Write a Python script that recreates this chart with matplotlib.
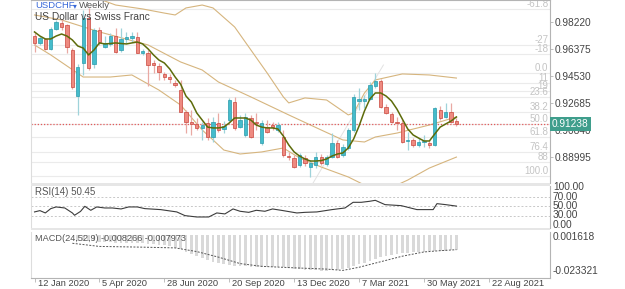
import matplotlib
matplotlib.use('Agg')
import matplotlib.pyplot as plt
import numpy as np
from matplotlib.patches import Rectangle
import matplotlib.transforms as mtransforms

plt.rcParams['font.family'] = ['Liberation Sans', 'DejaVu Sans']

# ---------------- data ----------------
opens = [0.9726, 0.9681, 0.9704, 0.9635, 0.9774, 0.9813, 0.9802, 0.9631, 0.9318, 0.9540,
         0.9847, 0.9533, 0.9767, 0.9653, 0.9672, 0.9726, 0.9631, 0.9704, 0.9711, 0.9717,
         0.9608, 0.9612, 0.9544, 0.9521, 0.9467, 0.9444, 0.9403, 0.9357, 0.9209, 0.9141,
         0.9125, 0.9096, 0.9130, 0.9036, 0.9130, 0.9093, 0.9152, 0.9277, 0.9107, 0.9050,
         0.9164, 0.9141, 0.8993, 0.9107, 0.9118, 0.9084, 0.9038, 0.8906, 0.8891, 0.8845,
         0.8891, 0.8833, 0.8845, 0.8902, 0.8850, 0.8902, 0.8993, 0.8913, 0.8959, 0.9084,
         0.9284, 0.9284, 0.9294, 0.9385, 0.9421, 0.9243, 0.9193, 0.9139, 0.9130, 0.9009,
         0.9016, 0.8982, 0.9002, 0.8997, 0.8982, 0.9221, 0.9175, 0.9209, 0.9145]
highs = [0.9747, 0.9726, 0.9713, 0.9788, 0.9836, 0.9843, 0.9808, 0.9644, 0.9537, 0.9904,
         0.9918, 0.9781, 0.9788, 0.9727, 0.9747, 0.9781, 0.9781, 0.9754, 0.9754, 0.9754,
         0.9638, 0.9631, 0.9562, 0.9542, 0.9480, 0.9467, 0.9426, 0.9426, 0.9221, 0.9221,
         0.9166, 0.9139, 0.9166, 0.9175, 0.9200, 0.9145, 0.9303, 0.9310, 0.9187, 0.9200,
         0.9187, 0.9200, 0.9152, 0.9152, 0.9139, 0.9139, 0.9084, 0.8934, 0.8913, 0.8927,
         0.8913, 0.8879, 0.8934, 0.8920, 0.8913, 0.9064, 0.9016, 0.8988, 0.9098, 0.9330,
         0.9371, 0.9323, 0.9412, 0.9474, 0.9433, 0.9262, 0.9207, 0.9173, 0.9152, 0.9070,
         0.9029, 0.9029, 0.9050, 0.9016, 0.9241, 0.9248, 0.9269, 0.9269, 0.9166]
lows = [0.9617, 0.9665, 0.9631, 0.9631, 0.9767, 0.9767, 0.9610, 0.9364, 0.9186, 0.9460,
        0.9494, 0.9508, 0.9665, 0.9644, 0.9658, 0.9610, 0.9617, 0.9679, 0.9685, 0.9610,
        0.9597, 0.9385, 0.9474, 0.9426, 0.9426, 0.9405, 0.9378, 0.9207, 0.9064, 0.9050,
        0.9084, 0.9016, 0.9016, 0.9004, 0.9070, 0.9064, 0.9139, 0.9084, 0.9098, 0.9036,
        0.9029, 0.9084, 0.8982, 0.9064, 0.9084, 0.9070, 0.8900, 0.8879, 0.8824, 0.8831,
        0.8838, 0.8765, 0.8824, 0.8845, 0.8838, 0.8893, 0.8893, 0.8900, 0.8947, 0.9070,
        0.9221, 0.9234, 0.9289, 0.9371, 0.9234, 0.9193, 0.9132, 0.9084, 0.8995, 0.8947,
        0.8968, 0.8968, 0.8968, 0.8961, 0.8975, 0.9152, 0.9166, 0.9132, 0.9111]
closes = [0.9681, 0.9715, 0.9635, 0.9774, 0.9820, 0.9786, 0.9653, 0.9378, 0.9517, 0.9847,
          0.9506, 0.9767, 0.9687, 0.9679, 0.9726, 0.9619, 0.9704, 0.9722, 0.9726, 0.9612,
          0.9626, 0.9528, 0.9528, 0.9482, 0.9444, 0.9430, 0.9392, 0.9209, 0.9141, 0.9125,
          0.9096, 0.9118, 0.9038, 0.9141, 0.9084, 0.9111, 0.9289, 0.9096, 0.9152, 0.9171,
          0.9038, 0.9130, 0.9130, 0.9072, 0.9105, 0.9118, 0.8913, 0.8897, 0.8833, 0.8913,
          0.8856, 0.8856, 0.8902, 0.8856, 0.8902, 0.8993, 0.8902, 0.8966, 0.9084, 0.9312,
          0.9294, 0.9294, 0.9392, 0.9421, 0.9243, 0.9202, 0.9141, 0.9132, 0.9004, 0.9016,
          0.8982, 0.9004, 0.9005, 0.8982, 0.9232, 0.9164, 0.9209, 0.9141, 0.91238]

# short moving average (olive), one value per candle
sma_fast = [0.9754, 0.9726, 0.9706, 0.9706, 0.9726, 0.9740, 0.9726, 0.9699, 0.9658, 0.9644,
            0.9597, 0.9631, 0.9679, 0.9672, 0.9675, 0.9679, 0.9675, 0.9672, 0.9679, 0.9685,
            0.9672, 0.9638, 0.9597, 0.9562, 0.9542, 0.9501, 0.9446, 0.9398, 0.9316, 0.9275,
            0.9200, 0.9152, 0.9104, 0.9098, 0.9098, 0.9104, 0.9132, 0.9166, 0.9166, 0.9166,
            0.9152, 0.9118, 0.9104, 0.9098, 0.9098, 0.9091, 0.9043, 0.8982, 0.8934, 0.8906,
            0.8886, 0.8872, 0.8872, 0.8875, 0.8886, 0.8906, 0.8920, 0.8927, 0.8961, 0.9023,
            0.9111, 0.9214, 0.9296, 0.9337, 0.9337, 0.9316, 0.9282, 0.9227, 0.9159, 0.9091,
            0.9050, 0.9029, 0.9009, 0.9009, 0.9057, 0.9104, 0.9125, 0.9145, 0.9173]

bb_up_idx = [0, 6, 10, 13, 15, 20, 24, 26, 28, 31, 33, 37, 40, 43, 46, 47, 50, 54, 58, 59, 61, 63, 68, 73, 78]
bb_up_val = [1.0100, 1.0080, 1.0000, 0.9965, 0.9938, 0.9911, 0.9883, 0.9870, 0.9918, 0.9938,
             0.9918, 0.9788, 0.9631, 0.9474, 0.9310, 0.9269, 0.9303, 0.9289, 0.9187, 0.9200,
             0.9337, 0.9426, 0.9467, 0.9460, 0.9439]
bb_mid_idx = [0, 5, 12, 21, 27, 31, 34, 40, 47, 53, 57, 61, 63, 67, 73, 78]
bb_mid_val = [0.9870, 0.9836, 0.9754, 0.9665, 0.9549, 0.9494, 0.9412, 0.9310, 0.9187, 0.9084,
              0.9016, 0.9002, 0.9036, 0.9063, 0.9118, 0.9173]
bb_lo_idx = [0, 3, 9, 14, 18, 23, 27, 31, 33, 35, 38, 42, 46, 49, 53, 58, 61, 65, 69, 73, 78]
bb_lo_val = [0.9665, 0.9597, 0.9446, 0.9446, 0.9460, 0.9357, 0.9255, 0.9084, 0.9016, 0.8947,
             0.8920, 0.8934, 0.8961, 0.8893, 0.8831, 0.8763, 0.8708, 0.8674, 0.8742, 0.8824, 0.8899]

trend_idx = [51.5, 64.5]
trend_val = [0.8722, 0.9528]

last_price = 0.91238

price_ticks = [0.98220, 0.96375, 0.94530, 0.92685, 0.90840, 0.88995]
fib_levels = [-61.8, -27.2, -18.0, 0.0, 9.7, 17.5, 23.6, 38.2, 50.0, 61.8, 76.4, 86.4, 100.0]
fib_labels = ["-61.8", "-27", "-18", "0.0", "11", "19", "23.6", "38.2", "50.0", "61.8", "76.4", "88", "100.0"]
fib_0 = 0.94735
fib_100 = 0.87696

rsi_idx = [0, 1, 2, 3, 4, 5.6, 7, 7.4, 8.5, 9.3, 10.4, 11.5, 13, 14.4, 16, 17.4, 19, 20.4, 23.3,
           26.3, 27.8, 30, 32.2, 33.7, 35.2, 36.7, 38, 39.6, 41, 42.6, 44, 45.6, 48.5, 50, 52.2,
           53, 55, 57.4, 58.9, 60.4, 61.9, 63, 64.8, 67.8, 70.7, 73.7, 74.4, 76, 78]
rsi_val = [37.9, 40.7, 35.7, 45.0, 48.6, 46.4, 35.7, 30.7, 39.0, 50.0, 41.4, 48.6, 46.4, 46.4,
           44.3, 48.6, 48.6, 45.0, 42.9, 37.9, 30.0, 27.0, 27.0, 35.7, 33.6, 44.3, 39.3, 37.0,
           41.4, 39.3, 44.3, 41.4, 35.7, 37.0, 37.9, 39.3, 42.9, 46.4, 58.6, 58.6, 60.7, 62.9,
           53.6, 51.4, 42.9, 42.9, 55.7, 53.6, 50.45]
rsi_levels = [70, 50, 30]
rsi_labels = ["100.00", "70.00", "50.00", "30.00", "0.00"]

macd_start = 8
macd_vals = [-0.0030, -0.0030, -0.0032, -0.0034, -0.0036, -0.0038, -0.0040, -0.0041, -0.0042,
             -0.0043, -0.0044, -0.0045, -0.0046, -0.0048, -0.0050, -0.0053, -0.0057, -0.0062,
             -0.0068, -0.0078, -0.0090, -0.0102, -0.0114, -0.0125, -0.0136, -0.0146, -0.0154,
             -0.0160, -0.0164, -0.0167, -0.0169, -0.0170, -0.0171, -0.0172, -0.0172, -0.0172,
             -0.0172, -0.0173, -0.0176, -0.0180, -0.0184, -0.0187, -0.0189, -0.0191, -0.0192,
             -0.0193, -0.0193, -0.0192, -0.0190, -0.0186, -0.0180, -0.0170, -0.0160, -0.0150,
             -0.0139, -0.0128, -0.0120, -0.0113, -0.0107, -0.0102, -0.0099, -0.0096, -0.0094,
             -0.0092, -0.0090, -0.0089, -0.0087, -0.0086, -0.0085, -0.0084, -0.008266]
sig_idx = [7, 12, 20, 26, 30, 34, 38, 42, 48, 54, 57, 60, 64, 68, 72, 75, 78]
sig_val = [-0.0045, -0.0062, -0.0066, -0.0070, -0.0090, -0.0120, -0.0155, -0.0170, -0.0178,
           -0.0185, -0.0192, -0.0175, -0.0145, -0.0115, -0.0092, -0.0085, -0.007973]
macd_top = 0.001618
macd_bot = -0.023321

date_labels = ["12 Jan 2020", "5 Apr 2020", "28 Jun 2020", "20 Sep 2020",
               "13 Dec 2020", "7 Mar 2021", "30 May 2021", "22 Aug 2021"]
weeks_per_label = 12

# ---------------- style ----------------
W, H = 625, 289
TEAL = '#45bccb'
TEAL_E = '#2a9aab'
RED = '#ee8a80'
RED_E = '#c9463d'
OLIVE = '#5d6b0a'
BB = '#d6b57e'
GRID = '#ebebeb'
AXC = '#b4b4b4'

fig = plt.figure(figsize=(W / 100, H / 100), dpi=100)


def ax_px(l, t, r, b):
    return fig.add_axes([l / W, 1 - b / H, (r - l) / W, (b - t) / H])


XMIN, XMAX = -0.65, 95.3
n = len(closes)
xs = np.arange(n)

# ---------------- main panel ----------------
ax = ax_px(31, 0, 550, 183)
ax.set_xlim(XMIN, XMAX)
ax.set_ylim(0.87218, 0.99723)
for s in ax.spines.values():
    s.set_color(AXC)
    s.set_linewidth(0.8)
ax.spines['left'].set_color('#dddddd')
ax.spines['bottom'].set_visible(False)
ax.set_xticks([])

blend = mtransforms.blended_transform_factory(ax.transAxes, ax.transData)
# fib lines & labels
for lv, lb in zip(fib_levels, fib_labels):
    p = fib_0 - lv / 100.0 * (fib_0 - fib_100)
    ax.axhline(p, color=GRID, lw=0.8, zorder=0)
    ax.text(0.997, p, lb, transform=blend,
            ha='right', va='bottom', fontsize=7, color='#c4c4c4', zorder=1)

ax.yaxis.tick_right()
ax.set_yticks(price_ticks)
ax.set_yticklabels([f"{t:.5f}" for t in price_ticks], fontsize=7.3, color='#444444')
ax.tick_params(axis='y', length=2, width=0.6, color=AXC, pad=1.5)

# bollinger bands
ax.plot(bb_up_idx, bb_up_val, color=BB, lw=0.8, zorder=2)
ax.plot(bb_mid_idx, bb_mid_val, color=BB, lw=0.8, zorder=2)
ax.plot(bb_lo_idx, bb_lo_val, color=BB, lw=0.8, zorder=2)
# trend line
ax.plot(trend_idx, trend_val, color='#e2e2e2', lw=0.7, zorder=1)

# candles
bw = 0.62
for i in range(n):
    o, h, l, c = opens[i], highs[i], lows[i], closes[i]
    up = c >= o
    fc = TEAL if up else RED
    ec = TEAL_E if up else RED_E
    wc = '#9fd3da' if up else '#e9a9a3'
    ax.vlines(i, l, h, color=wc, lw=0.9, zorder=3)
    lo_b = min(o, c)
    hb = max(abs(c - o), 0.0004)
    ax.add_patch(Rectangle((i - bw / 2, lo_b), bw, hb, facecolor=fc, edgecolor=ec, lw=0.5, zorder=4))

# fast MA
ax.plot(xs, sma_fast, color=OLIVE, lw=1.1, zorder=5)

# current price line and tag
ax.axhline(last_price, color='#e25b5b', lw=0.9, ls=(0, (1, 1.5)), zorder=2)
ax.text(1.004, last_price, f"{last_price:.5f}", transform=blend,
        ha='left', va='center', fontsize=7.3, color='white', zorder=10, clip_on=False,
        bbox=dict(boxstyle='square,pad=0.18', fc='#3f9e8c', ec='none'))

# titles
fig.text(35 / W, 1 - 6 / H, "USDCHF", color='#3868d8', fontsize=6.8, va='center', ha='left')
fig.text(73 / W, 1 - 6 / H, "\u25BE", color='#3868d8', fontsize=5.5, va='center', ha='left',
         family=['DejaVu Sans'])
fig.text(79 / W, 1 - 6 / H, "Weekly", color='#555555', fontsize=6.8, va='center', ha='left')
fig.text(35 / W, 1 - 17 / H, "US Dollar vs Swiss Franc", color='#444444', fontsize=7.3, va='center', ha='left')

# separators
fig.patches.append(Rectangle((31 / W, 1 - 186 / H), 519 / W, 3 / H, transform=fig.transFigure,
                             fc='#e6e6e6', ec='none'))
fig.patches.append(Rectangle((31 / W, 1 - 230 / H), 519 / W, 2 / H, transform=fig.transFigure,
                             fc='#e6e6e6', ec='none'))

# ---------------- RSI panel ----------------
ar = ax_px(31, 186, 550, 228)
ar.set_xlim(XMIN, XMAX)
ar.set_ylim(3.3, 93.7)
for s in ar.spines.values():
    s.set_visible(False)
ar.spines['right'].set_visible(True)
ar.spines['right'].set_color(AXC)
ar.spines['left'].set_visible(True)
ar.spines['left'].set_color('#dddddd')
ar.set_xticks([])
ar.set_yticks([])
for lv in rsi_levels:
    ar.axhline(lv, color='#c8c8c8', lw=0.7, ls=(0, (2, 2)))
ar.plot(rsi_idx, rsi_val, color='#3c3c3c', lw=0.8)
ar.text(0.008, 0.86, f"RSI(14) {rsi_val[-1]:.2f}", transform=ar.transAxes, fontsize=7,
        color='#555555', va='center')
for k, lb in enumerate(rsi_labels):
    fig.text(553 / W, 1 - (187 + 9.5 * k) / H, lb, fontsize=7.3, color='#444444', va='center')

# ---------------- MACD panel ----------------
am = ax_px(31, 232, 550, 278)
am.set_xlim(XMIN, XMAX)
am.set_ylim(macd_bot, macd_top)
for s in am.spines.values():
    s.set_visible(False)
am.spines['right'].set_visible(True)
am.spines['right'].set_color(AXC)
am.spines['left'].set_visible(True)
am.spines['left'].set_color('#dddddd')
am.spines['bottom'].set_visible(True)
am.spines['bottom'].set_color(AXC)
am.set_yticks([])
mx = np.arange(macd_start, macd_start + len(macd_vals))
am.bar(mx, macd_vals, width=0.5, color='#d9d9d9', zorder=1)
am.plot(sig_idx, sig_val, color='#555555', lw=0.7, ls=(0, (2, 1.5)), zorder=2)
am.text(0.008, 0.86, f"MACD(24,52,9) {macd_vals[-1]:.6f} {sig_val[-1]:.6f}", transform=am.transAxes,
        fontsize=6.6, color='#555555', va='center', zorder=3)
fig.text(553 / W, 1 - 237 / H, f"{macd_top:.6f}", fontsize=7.3, color='#444444', va='center')
fig.text(553 / W, 1 - 271 / H, f"{macd_bot:.6f}", fontsize=7.3, color='#444444', va='center')

ticks = [k * weeks_per_label for k in range(len(date_labels))]
am.set_xticks(ticks)
am.set_xticklabels([])
am.tick_params(axis='x', length=3, width=0.6, color=AXC)
for t, lb in zip(ticks, date_labels):
    fig.text((34.5 + t * 5.41 + 3) / W, 1 - 284 / H, lb, fontsize=6.7, color='#444444',
             ha='left', va='center')

fig.savefig('out.png', dpi=100, facecolor='white')
